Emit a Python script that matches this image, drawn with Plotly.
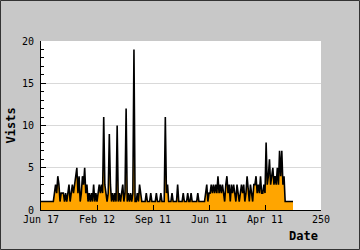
import plotly.graph_objects as go

# Daily visits (index 0..225)
visits = [
    1, 1, 1, 1, 1, 1, 1, 1, 1, 1, 1, 1,                 # 0-11
    2, 3, 2, 4, 3, 1, 2, 2, 2, 1, 2, 1, 2, 3, 1, 2,     # 12-27
    3, 2, 3, 4, 5, 2, 4, 1, 2, 4, 3, 5, 2, 3, 1, 2,     # 28-43
    1, 2, 1, 3, 1, 2, 1, 2, 3, 2, 3, 2, 11, 3, 2, 1,    # 44-59
    2, 9, 3, 1, 2, 1, 2, 1, 10, 1, 2, 1, 2, 3, 1, 2,    # 60-75
    12, 1, 2, 1, 2, 1, 2, 19, 1, 1, 2, 1, 3, 2, 1, 1,   # 76-91
    1, 1, 2, 1, 1, 1, 2, 1, 1, 1, 1, 2, 1, 1, 1, 2,     # 92-107
    1, 1, 1, 11, 2, 3, 1, 1, 1, 2, 1, 1, 1, 1, 3, 1,    # 108-123
    1, 1, 1, 2, 1, 1, 1, 2, 1, 1, 2, 1, 1, 1, 1, 1,     # 124-139
    2, 1, 1, 1, 1, 1, 1, 2, 3, 1, 2, 2, 3, 2, 3, 2,     # 140-155
    3, 2, 4, 2, 3, 2, 3, 2, 1, 3, 4, 2, 3, 1, 3, 2,     # 156-171
    3, 2, 1, 3, 2, 1, 2, 3, 2, 3, 1, 2, 4, 2, 1, 3,     # 172-187
    2, 1, 3, 3, 4, 2, 3, 2, 4, 2, 2, 3, 2, 8, 3, 4,     # 188-203
    6, 3, 4, 5, 3, 4, 3, 5, 3, 7, 4, 7, 3, 4, 1, 1,     # 204-219
    1, 1, 1, 1, 1, 1,                                   # 220-225
]
days = list(range(len(visits)))

x_tickvals = [0, 50, 100, 150, 200, 250]
x_ticktext = ["Jun 17", "Feb 12", "Sep 11", "Jun 11", "Apr 11", "250"]
y_tickvals = [0, 5, 10, 15, 20]

W, H = 360, 250
L, R, T, B = 41, 39, 41, 40
PW, PH = W - L - R, H - T - B


def px(p):
    return (p - L) / PW


def py(p):
    return (H - B - p) / PH


fig = go.Figure(
    go.Scatter(
        x=days, y=visits, mode="lines",
        line=dict(color="black", width=1.6),
        fill="tozeroy", fillcolor="#FFA500",
        hoverinfo="skip",
    )
)

fig.update_layout(
    width=W, height=H,
    margin=dict(l=L, r=R, t=T, b=B),
    paper_bgcolor="#c8c8c8", plot_bgcolor="white",
    showlegend=False,
    font=dict(family="DejaVu Sans Mono", size=10, color="black"),
    shapes=[
        dict(type="rect", xref="paper", yref="paper",
             x0=px(0.5), x1=px(W - 0.5), y0=py(H - 0.5), y1=py(0.5),
             line=dict(color="#333333", width=1), fillcolor="rgba(0,0,0,0)",
             layer="above"),
    ],
    annotations=[
        dict(text="Vists", xref="paper", yref="paper", x=px(10), y=py(125.5),
             showarrow=False, textangle=-90, xanchor="center", yanchor="middle",
             font=dict(family="DejaVu Sans Mono", size=12, weight="bold")),
        dict(text="Date", xref="paper", yref="paper", x=px(319.5), y=py(236),
             showarrow=False, xanchor="right", yanchor="middle",
             font=dict(family="DejaVu Sans Mono", size=12, weight="bold")),
    ],
)

fig.update_xaxes(
    range=[0, 250], tickvals=x_tickvals, ticktext=x_ticktext,
    ticks="inside", ticklen=5, tickcolor="black", tickwidth=1,
    showline=True, linecolor="black", linewidth=1,
    showgrid=False, zeroline=False, fixedrange=True,
)
fig.update_yaxes(
    range=[0, 20], tickvals=y_tickvals,
    ticks="inside", ticklen=5, tickcolor="black", tickwidth=1,
    showline=True, linecolor="black", linewidth=1,
    showgrid=True, gridcolor="#d9d9d9", gridwidth=1,
    zeroline=False, fixedrange=True, ticklabelstandoff=4,
    minor=dict(dtick=1, ticks="inside", ticklen=3, tickcolor="black", showgrid=False),
)

fig.write_html("out.html", config={"displayModeBar": False})
